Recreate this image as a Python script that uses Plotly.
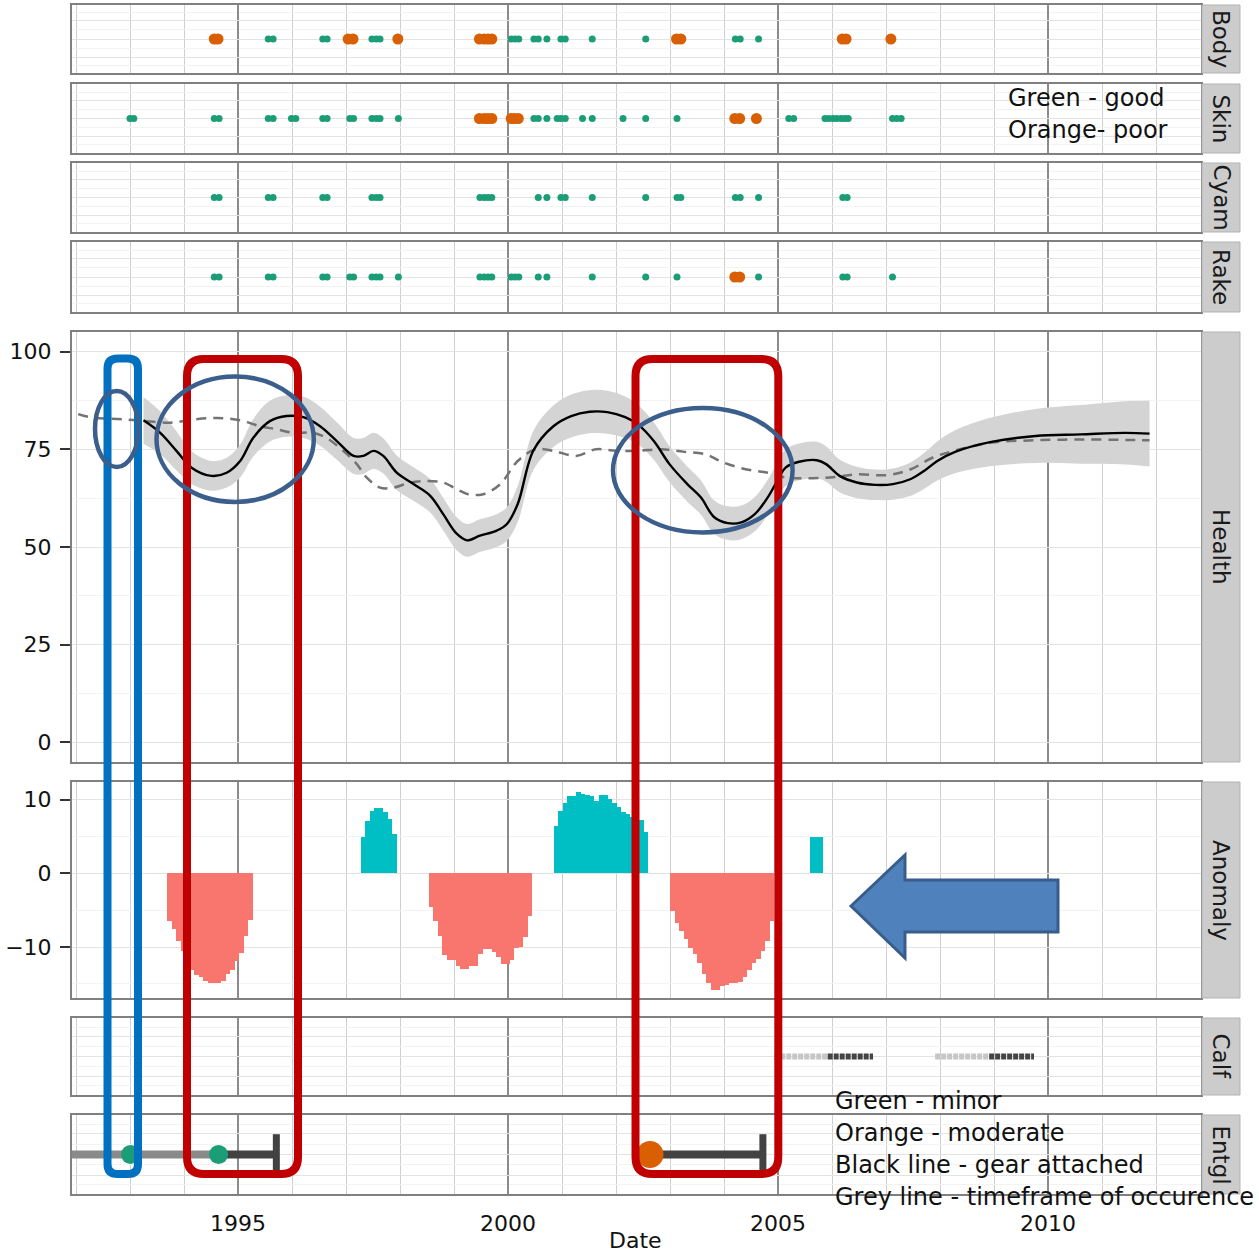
import plotly.graph_objects as go

# ======================= DATA =======================
years_major = [1995, 2000, 2005, 2010]
years_minor = [1992, 1993, 1994, 1996, 1997, 1998, 1999, 2001, 2002, 2003, 2004,
               2006, 2007, 2008, 2009, 2011, 2012]

body_good = [1995.56, 1995.65, 1996.57, 1996.65, 1997.48, 1997.56, 1997.63, 2000.06, 2000.13,
             2000.20, 2000.48, 2000.56, 2000.72, 2000.98, 2001.06, 2001.56, 2002.55, 2004.21,
             2004.30, 2004.64]
body_poor = [1994.56, 1994.63, 1997.04, 1997.13, 1997.96, 1999.47, 1999.56, 1999.63, 1999.70,
             2003.12, 2003.20, 2006.19, 2006.26, 2007.09]

skin_good = [1993.00, 1993.07, 1994.56, 1994.65, 1995.56, 1995.65, 1995.99, 1996.07, 1996.57,
             1996.65, 1997.07, 1997.14, 1997.48, 1997.56, 1997.63, 1997.97, 2000.48, 2000.56,
             2000.72, 2000.91, 2000.98, 2001.06, 2001.38, 2001.56, 2002.13, 2002.55, 2003.13,
             2005.20, 2005.29, 2005.87, 2005.94, 2006.02, 2006.09, 2006.17, 2006.24, 2006.30,
             2007.12, 2007.20, 2007.28]
skin_poor = [1999.47, 1999.56, 1999.63, 1999.70, 2000.06, 2000.12, 2000.19, 2004.20, 2004.29,
             2004.60]

cyam_good = [1994.56, 1994.65, 1995.56, 1995.65, 1996.57, 1996.65, 1997.48, 1997.56, 1997.63,
             1999.48, 1999.56, 1999.63, 1999.70, 2000.56, 2000.72, 2000.98, 2001.06, 2001.56,
             2002.55, 2003.13, 2003.20, 2004.21, 2004.30, 2004.64, 2006.20, 2006.28]
cyam_poor = []

rake_good = [1994.56, 1994.65, 1995.56, 1995.65, 1996.57, 1996.65, 1997.07, 1997.14, 1997.48,
             1997.56, 1997.63, 1997.97, 1999.48, 1999.56, 1999.63, 1999.70, 2000.06, 2000.13,
             2000.20, 2000.56, 2000.72, 2001.56, 2002.55, 2003.13, 2004.64, 2006.20, 2006.28,
             2007.12]
rake_poor = [2004.20, 2004.29]

health_x = [1993.25, 1993.56, 1993.86, 1994.14, 1994.51, 1994.79, 1995.04, 1995.28, 1995.59,
            1995.90, 1996.21, 1996.52, 1996.83, 1997.14, 1997.32, 1997.51, 1997.69, 1997.94,
            1998.25, 1998.56, 1998.80, 1999.05, 1999.24, 1999.48, 1999.79, 1999.98, 2000.18,
            2000.47, 2000.84, 2001.17, 2001.51, 2001.84, 2002.17, 2002.41, 2002.70, 2002.99,
            2003.32, 2003.57, 2003.82, 2004.07, 2004.32, 2004.57, 2004.81, 2005.02, 2005.14,
            2005.39, 2005.72, 2005.89, 2006.14, 2006.46, 2006.80, 2007.13, 2007.46, 2007.71,
            2007.95, 2008.29, 2008.95, 2009.77, 2010.60, 2011.43, 2011.88]
health_mean = [82.4, 79.2, 74.6, 70.3, 68.2, 69.0, 72.0, 77.9, 82.2,
               83.5, 83.2, 80.9, 77.1, 73.3, 73.3, 74.6, 73.3, 69.0,
               66.1, 63.1, 58.4, 53.4, 51.7, 52.9, 54.2, 55.9, 61.0,
               74.7, 80.9, 83.5, 84.6, 84.5, 83.2, 81.3, 77.1, 71.2,
               66.1, 62.7, 57.6, 56.1, 56.3, 58.4, 62.7, 67.8, 70.3,
               71.8, 72.2, 71.2, 68.2, 66.5, 65.9, 66.1, 67.4, 69.5,
               72.0, 74.4, 76.9, 78.4, 78.8, 79.2, 79.0]
health_se = [6.0, 5.5, 5.0, 4.2, 3.8, 3.8, 4.2, 4.8, 5.2,
             5.3, 5.3, 5.0, 4.8, 4.6, 4.6, 4.6, 4.5, 4.4,
             4.3, 4.3, 4.2, 4.2, 4.2, 4.2, 4.2, 4.3, 4.6,
             5.0, 5.3, 5.5, 5.5, 5.5, 5.3, 5.0, 4.8, 4.6,
             4.5, 4.4, 4.3, 4.3, 4.3, 4.4, 4.5, 4.7, 4.7,
             4.7, 4.7, 4.5, 4.2, 4.0, 3.9, 4.0, 4.3, 4.6,
             5.0, 5.5, 6.2, 6.9, 7.5, 8.1, 8.4]

pop_x = [1992.04, 1992.26, 1992.51, 1992.94, 1993.31, 1993.74, 1994.17, 1994.61, 1995.04,
         1995.41, 1995.72, 1996.02, 1996.39, 1996.64, 1996.95, 1997.20, 1997.38, 1997.63,
         1997.88, 1998.19, 1998.49, 1998.80, 1999.05, 1999.26, 1999.54, 1999.85, 2000.18,
         2000.51, 2000.84, 2001.26, 2001.63, 2002.00, 2002.41, 2002.83, 2003.24, 2003.66,
         2003.99, 2004.40, 2004.81, 2005.14, 2005.64, 2006.05, 2006.46, 2007.04, 2007.46,
         2007.87, 2008.29, 2008.95, 2009.77, 2010.60, 2011.43, 2011.88]
pop_mean = [84.0, 83.2, 82.9, 82.6, 82.2, 81.8, 82.6, 83.0, 82.4,
            80.9, 80.1, 79.2, 79.2, 77.9, 74.6, 71.2, 67.8, 65.2,
            65.2, 66.5, 66.9, 66.5, 64.8, 63.5, 63.5, 66.0, 72.0,
            75.0, 74.6, 73.3, 75.0, 74.6, 74.6, 75.0, 74.4, 73.7,
            71.6, 69.9, 69.0, 67.8, 67.6, 67.9, 68.6, 68.4, 69.9,
            72.9, 74.7, 76.7, 77.3, 77.5, 77.4, 77.3]

# anomaly episodes: first month (decimal year) and monthly anomaly values
anom_starts = [1993.69, 1997.27, 1998.53, 2000.85, 2003.01, 2005.59]
anom_values = [
    [-6.4, -7.6, -9.2, -10.5, -12.0, -13.1, -13.8, -14.1, -14.6, -14.8, -14.8, -14.8, -14.6,
     -13.7, -13.1, -11.9, -10.8, -8.5, -6.3],
    [5.0, 7.1, 8.5, 8.9, 8.9, 8.3, 7.4, 5.4],
    [-4.6, -6.4, -8.5, -11.0, -11.8, -11.8, -12.5, -13.0, -13.0, -12.5, -12.5, -10.9, -10.2,
     -10.2, -10.7, -11.3, -12.3, -12.3, -11.7, -10.1, -10.0, -8.6, -5.8],
    [6.4, 8.4, 9.5, 10.5, 10.5, 11.0, 10.8, 10.7, 10.5, 9.8, 10.6, 10.6, 10.1, 9.5, 9.0, 8.3,
     8.0, 7.7, 7.3, 7.3, 5.6],
    [-5.1, -6.7, -7.8, -8.9, -10.1, -10.9, -12.1, -13.7, -14.9, -15.8, -15.8, -15.3, -15.1,
     -14.9, -14.8, -14.7, -14.0, -13.1, -12.1, -11.6, -10.5, -9.2, -6.4],
    [4.9, 4.9, 4.9],
]

calf_window = [(2004.93, 2005.92), (2007.91, 2008.91)]   # grey: timeframe
calf_with = [(2005.92, 2006.76), (2008.91, 2009.74)]     # dark: calf seen

entgl_timeframe = [(1991.5, 1994.64)]
entgl_gear = [(1994.64, 1995.71), (2002.63, 2004.72)]
entgl_event_x = [1993.01, 1994.64, 2002.63]
entgl_event_sev = ["minor", "minor", "moderate"]

# ======================= LAYOUT HELPERS =======================
W, H = 1259, 1255
FONT = "DejaVu Sans"
GREEN, ORANGE = "#1B9E77", "#D95F02"


def fx(p):
    return p / W


def fy(p):
    return 1 - p / H


X_RANGE = [1991.926, 2012.833]
PL, PR = 72, 1201
panels = [("Body", 5, 73), ("Skin", 84, 153), ("Cyam", 163, 232), ("Rake", 242, 312),
          ("Health", 332, 762), ("Anomaly", 782, 998), ("Calf", 1018, 1095), ("Entgl", 1115, 1194)]

fig = go.Figure()


def ax(i):
    return "" if i == 1 else str(i)


def add(i, tr):
    tr.update(xaxis="x" + ax(i), yaxis="y" + ax(i), showlegend=False, hoverinfo="skip")
    fig.add_trace(tr)


# dot panels
for i, (good, poor) in enumerate([(body_good, body_poor), (skin_good, skin_poor),
                                  (cyam_good, cyam_poor), (rake_good, rake_poor)], start=1):
    if good:
        add(i, go.Scatter(x=good, y=[0.5] * len(good), mode="markers",
                          marker=dict(color=GREEN, size=7, line=dict(width=0))))
    if poor:
        add(i, go.Scatter(x=poor, y=[0.5] * len(poor), mode="markers",
                          marker=dict(color=ORANGE, size=11, line=dict(width=0))))

# health
lo = [m - s for m, s in zip(health_mean, health_se)]
hi = [m + s for m, s in zip(health_mean, health_se)]
add(5, go.Scatter(x=health_x, y=lo, mode="lines", line=dict(width=0, shape="spline", color="#D4D4D4")))
add(5, go.Scatter(x=health_x, y=hi, mode="lines", fill="tonexty", fillcolor="#D4D4D4",
                  line=dict(width=0, shape="spline", color="#D4D4D4")))
add(5, go.Scatter(x=pop_x, y=pop_mean, mode="lines",
                  line=dict(color="#737373", width=2.5, dash="10px,7px", shape="spline")))
add(5, go.Scatter(x=health_x, y=health_mean, mode="lines",
                  line=dict(color="#000000", width=2.4, shape="spline")))

# anomaly
for st, vals in zip(anom_starts, anom_values):
    xs = [st + (k + 0.5) / 12 for k in range(len(vals))]
    cols = ["#00BFC4" if v > 0 else "#F8766D" for v in vals]
    add(6, go.Bar(x=xs, y=vals, width=1 / 12 + 0.002, marker=dict(color=cols, line=dict(width=0))))

# calf
for a, b in calf_window:
    add(7, go.Scatter(x=[a, b], y=[0.5, 0.5], mode="lines",
                      line=dict(color="#C6C6C6", width=6, dash="5px,1px")))
for a, b in calf_with:
    add(7, go.Scatter(x=[a, b], y=[0.5, 0.5], mode="lines",
                      line=dict(color="#444444", width=6, dash="5px,1px")))

# entanglement
for a, b in entgl_timeframe:
    add(8, go.Scatter(x=[a, b], y=[0.5, 0.5], mode="lines", line=dict(color="#8A8A8A", width=8)))
for a, b in entgl_gear:
    add(8, go.Scatter(x=[a, b], y=[0.5, 0.5], mode="lines", line=dict(color="#424242", width=8)))
    add(8, go.Scatter(x=[b], y=[0.5], mode="markers",
                      marker=dict(symbol="line-ns", size=29, line=dict(color="#424242", width=7))))
for xv, sev in zip(entgl_event_x, entgl_event_sev):
    add(8, go.Scatter(x=[xv], y=[0.5], mode="markers",
                      marker=dict(color=GREEN if sev == "minor" else ORANGE,
                                  size=19 if sev == "minor" else 27, line=dict(width=0))))

# axes
layout = dict(width=W, height=H, margin=dict(l=0, r=0, t=0, b=0), paper_bgcolor="white",
              plot_bgcolor="white", font=dict(family=FONT, color="#111111"), barmode="overlay",
              bargap=0, showlegend=False)
for i, (name, top, bot) in enumerate(panels, start=1):
    xa = dict(domain=[fx(PL), fx(PR)], range=X_RANGE, anchor="y" + ax(i),
              tickvals=years_major, ticktext=[str(y) for y in years_major],
              showticklabels=(i == 8), tickfont=dict(size=22, color="#111111"),
              showgrid=True, gridcolor="#8C8C8C", gridwidth=2,
              minor=dict(tickvals=years_minor, showgrid=True, gridcolor="#CFCFCF", gridwidth=1.3),
              showline=True, mirror=True, linecolor="#808080", linewidth=2, zeroline=False,
              fixedrange=True)
    if i == 8:
        xa.update(ticks="outside", ticklen=9, tickcolor="rgba(0,0,0,0)")
    else:
        xa.update(ticks="")
    layout["xaxis" + ax(i)] = xa

    ya = dict(domain=[fy(bot), fy(top)], anchor="x" + ax(i), showline=True, mirror=True,
              linecolor="#808080", linewidth=2, zeroline=False, showgrid=True,
              gridcolor="#E3E3E3", gridwidth=1, fixedrange=True)
    if name == "Health":
        ya.update(range=[-5, 105], tickvals=[0, 25, 50, 75, 100],
                  minor=dict(tickvals=[12.5, 37.5, 62.5, 87.5], showgrid=True, gridcolor="#F3F3F3"),
                  ticks="outside", ticklen=10, tickwidth=2, tickcolor="#333333",
                  tickfont=dict(size=22, color="#111111"), ticklabelstandoff=4)
    elif name == "Anomaly":
        ya.update(range=[-16.9, 12.4], tickvals=[-10, 0, 10],
                  minor=dict(tickvals=[-15, -5, 5], showgrid=True, gridcolor="#F3F3F3"),
                  ticks="outside", ticklen=10, tickwidth=2, tickcolor="#333333",
                  tickfont=dict(size=22, color="#111111"), ticklabelstandoff=4)
    else:
        ya.update(range=[0, 1], tickvals=[0.235, 0.5, 0.765], showticklabels=False, ticks="",
                  minor=dict(tickvals=[0.1175, 0.3675, 0.6325, 0.8825], showgrid=True,
                             gridcolor="#F3F3F3"))
    layout["yaxis" + ax(i)] = ya

fig.update_layout(**layout)

shapes = []
annotations = []
# strips
for name, top, bot in panels:
    shapes.append(dict(type="rect", xref="paper", yref="paper", x0=fx(1202), x1=fx(1240),
                       y0=fy(bot), y1=fy(top), fillcolor="#CCCCCC",
                       line=dict(color="#B3B3B3", width=1), layer="above"))
    annotations.append(dict(xref="paper", yref="paper", x=fx(1221), y=fy((top + bot) / 2),
                            text=name, textangle=90, showarrow=False,
                            font=dict(size=23, color="#1A1A1A", family=FONT),
                            xanchor="center", yanchor="middle"))


def rrect(x0, y0, x1, y1, r):
    def p(x, y):
        return f"{fx(x):.5f},{fy(y):.5f}"
    return (f"M {p(x0 + r, y0)} L {p(x1 - r, y0)} Q {p(x1, y0)} {p(x1, y0 + r)} "
            f"L {p(x1, y1 - r)} Q {p(x1, y1)} {p(x1 - r, y1)} L {p(x0 + r, y1)} "
            f"Q {p(x0, y1)} {p(x0, y1 - r)} L {p(x0, y0 + r)} Q {p(x0, y0)} {p(x0 + r, y0)} Z")


shapes.append(dict(type="path", xref="paper", yref="paper", path=rrect(107.5, 358.5, 138, 1174, 10),
                   line=dict(color="#0070C0", width=8), layer="above"))
shapes.append(dict(type="path", xref="paper", yref="paper", path=rrect(187, 359, 298, 1174, 17),
                   line=dict(color="#C00000", width=8), layer="above"))
shapes.append(dict(type="path", xref="paper", yref="paper", path=rrect(635.5, 359, 778.3, 1174, 17),
                   line=dict(color="#C00000", width=8), layer="above"))
for (a, b, c, d) in [(95, 391, 138.5, 467), (156.5, 376.5, 313.8, 502), (613, 408, 792.6, 532.5)]:
    shapes.append(dict(type="circle", xref="paper", yref="paper", x0=fx(a), x1=fx(c),
                       y0=fy(d), y1=fy(b), line=dict(color="#3B5E8C", width=4.5), layer="above"))
arrow_pts = [(851, 906), (905, 855), (905, 880), (1058, 880), (1058, 932), (905, 932), (905, 958)]
arrow_path = "M " + " L ".join(f"{fx(x):.5f},{fy(y):.5f}" for x, y in arrow_pts) + " Z"
shapes.append(dict(type="path", xref="paper", yref="paper", path=arrow_path, fillcolor="#4F81BD",
                   line=dict(color="#385D8A", width=3), layer="above"))

# texts
for txt, x, y in [("Green - good", 1006, 98), ("Orange- poor", 1006, 130),
                  ("Green - minor", 833, 1101), ("Orange - moderate", 833, 1133),
                  ("Black line - gear attached", 833, 1165),
                  ("Grey line - timeframe of occurence", 833, 1197)]:
    annotations.append(dict(xref="paper", yref="paper", x=fx(x), y=fy(y), text=txt,
                            showarrow=False, xanchor="left", yanchor="middle",
                            font=dict(size=24, color="#111111", family=FONT)))
annotations.append(dict(xref="paper", yref="paper", x=fx(636), y=fy(1255), text="Date",
                        showarrow=False, xanchor="center", yanchor="bottom",
                        font=dict(size=22, color="#111111", family=FONT)))

fig.update_layout(shapes=shapes, annotations=annotations)

fig.write_html("out.html", config={"displayModeBar": False},
               post_script="document.body.style.margin='0px';document.body.style.overflow='hidden';")
